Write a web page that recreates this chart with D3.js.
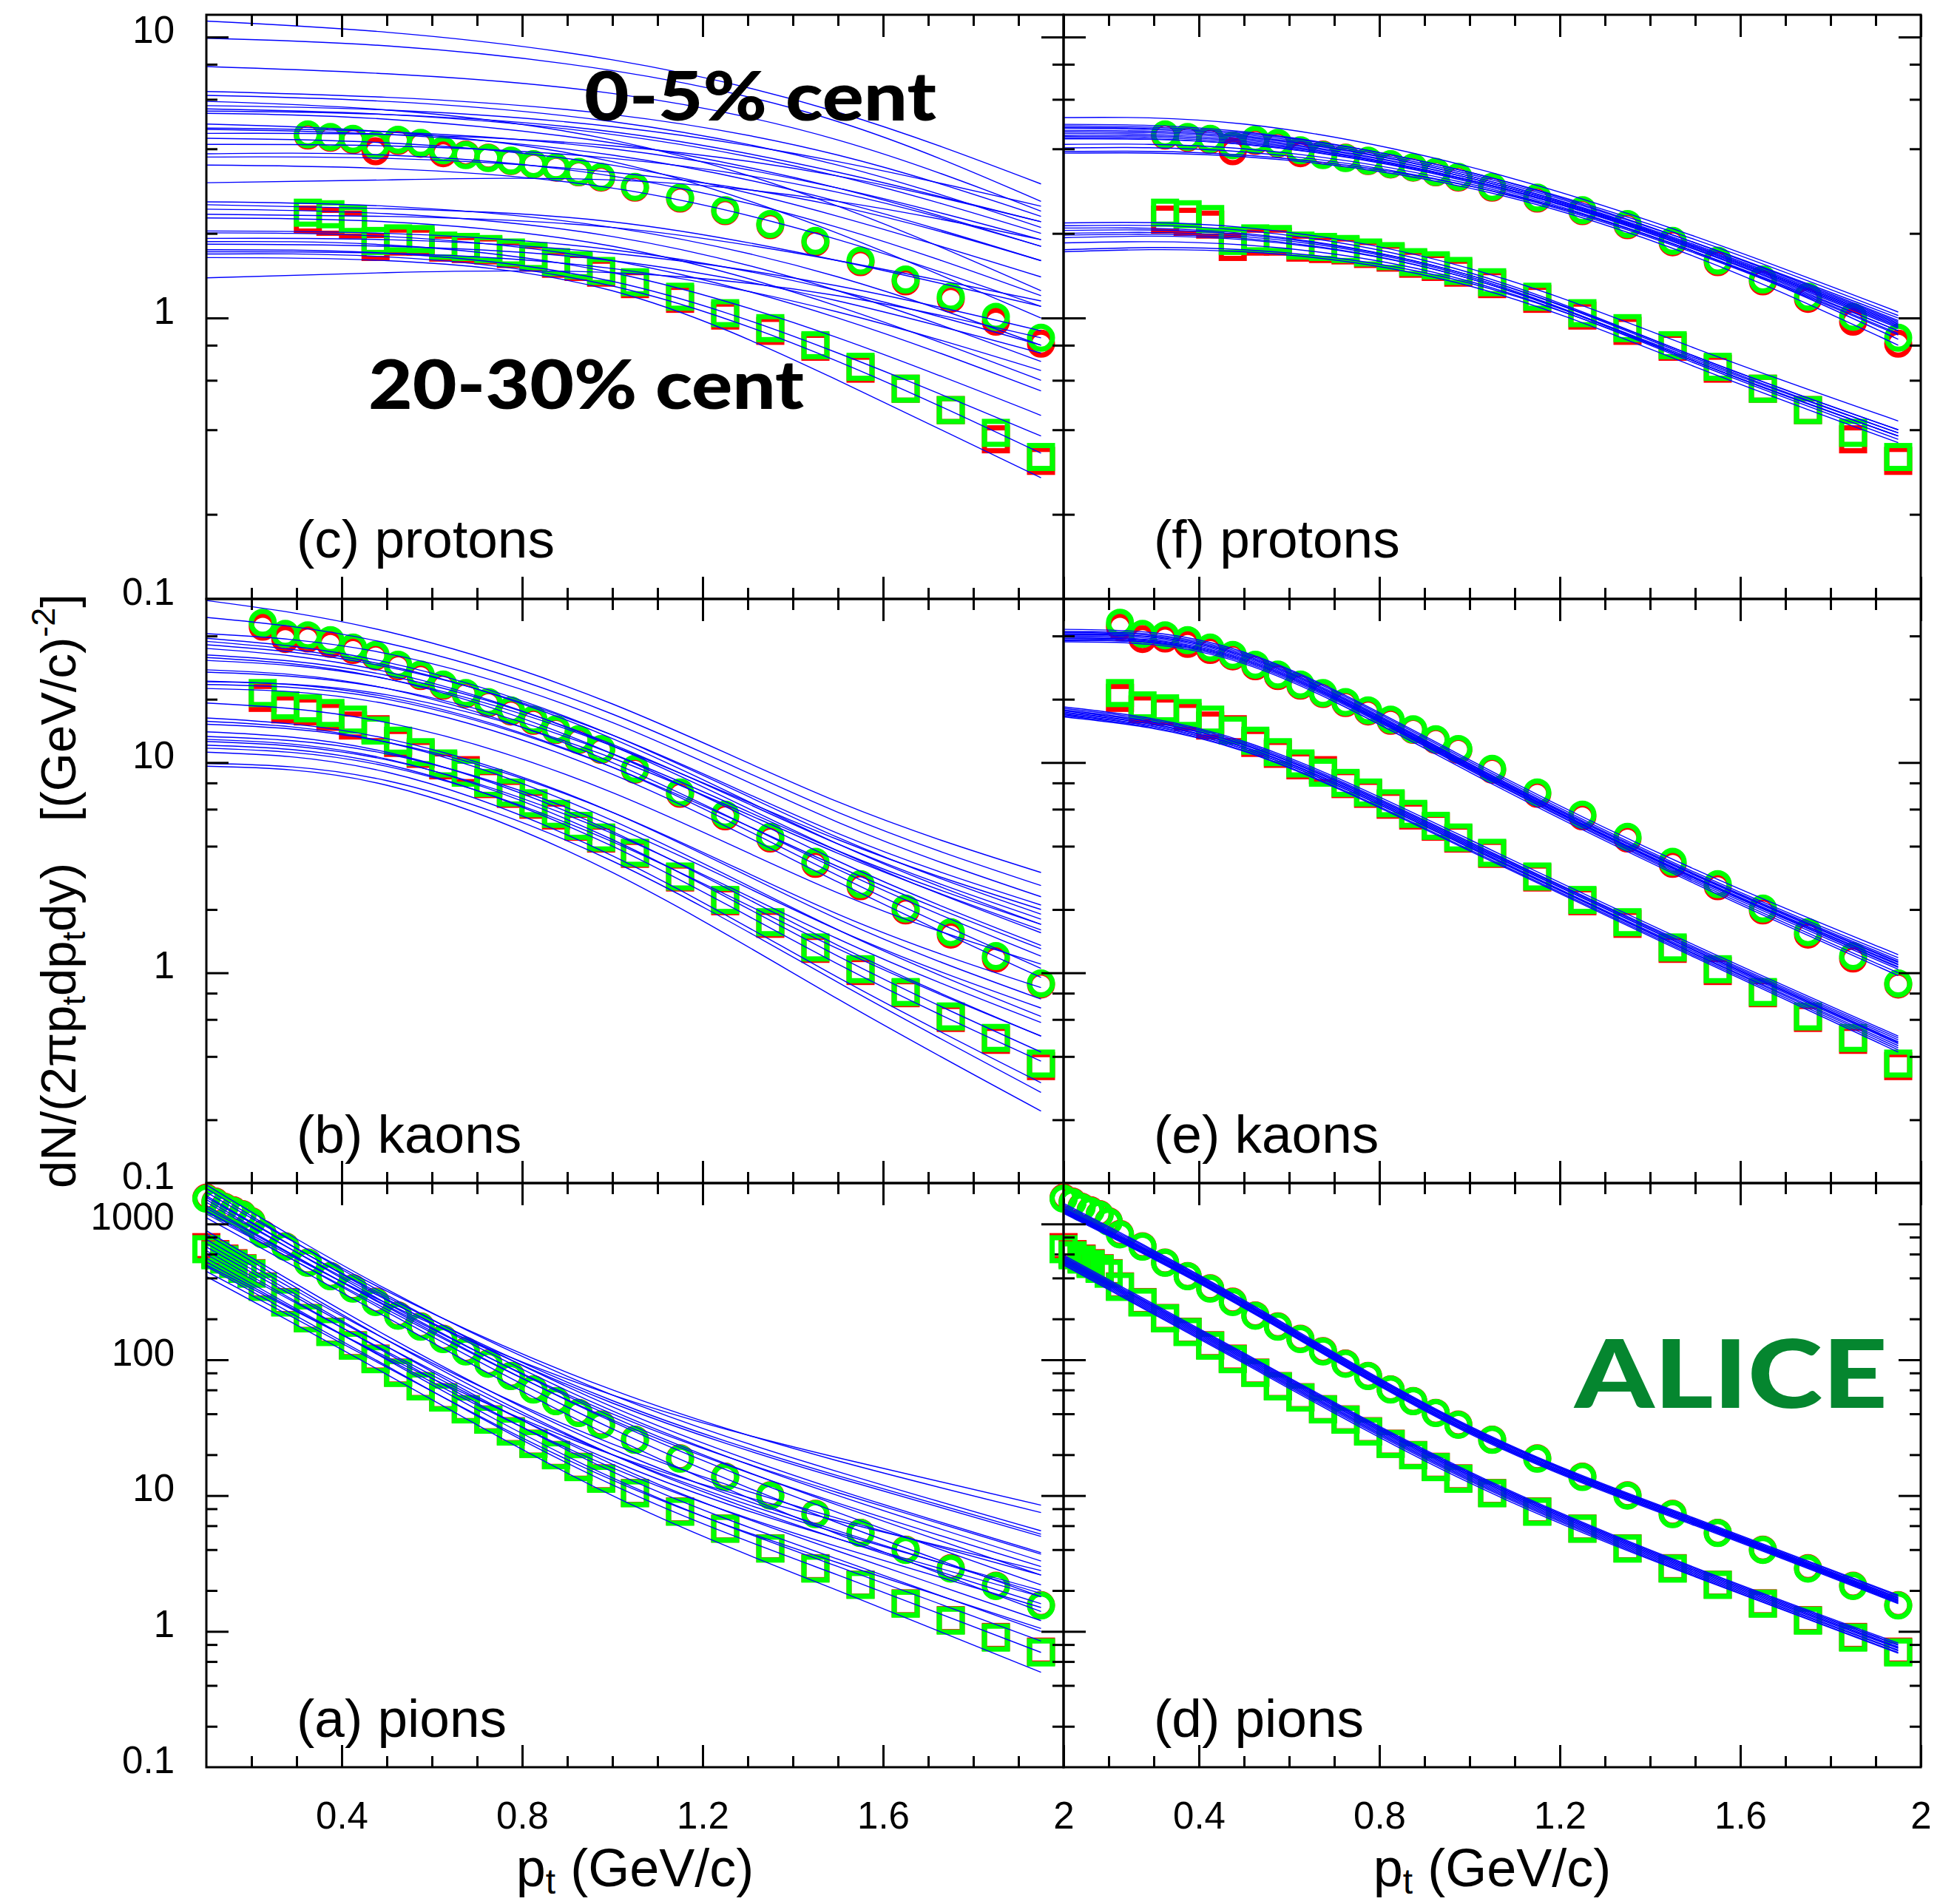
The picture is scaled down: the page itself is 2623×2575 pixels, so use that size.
<!DOCTYPE html>
<html>
<head>
<meta charset="utf-8">
<script src="https://cdn.jsdelivr.net/npm/d3@7"></script>
<style>
  html, body { margin: 0; padding: 0; background: #ffffff; }
  svg { display: block; }
</style>
</head>
<body>
<svg id="chart" width="2623" height="2575"></svg>
<script>
// ---------------------------------------------------------------
// Identified-hadron pT spectra, 0-5% and 20-30% centrality,
// compared with ensembles of model curves (wide prior, left column;
// calibrated posterior, right column).
// ---------------------------------------------------------------

// ---- measured spectra ------------------------------------------
const ptProton = [0.325,0.375,0.425,0.475,0.525,0.575,0.625,0.675,0.725,0.775,0.825,0.875,0.925,0.975,
                  1.05,1.15,1.25,1.35,1.45,1.55,1.65,1.75,1.85,1.95];
const protonCentralA = [4.50,4.41,4.34,4.12,4.31,4.20,3.95,3.80,3.71,3.63,3.53,3.44,3.31,3.18,
                        2.93,2.68,2.42,2.16,1.88,1.60,1.37,1.19,1.01,0.85];
const protonCentralB = [4.46,4.38,4.30,3.92,4.27,4.17,3.86,3.82,3.72,3.62,3.52,3.43,3.30,3.16,
                        2.91,2.66,2.40,2.14,1.86,1.58,1.35,1.17,0.97,0.81];
const protonPeriphA  = [2.37,2.34,2.25,1.88,1.92,1.91,1.81,1.79,1.76,1.71,1.66,1.58,1.54,1.47,
                        1.34,1.19,1.04,0.92,0.80,0.67,0.56,0.47,0.39,0.32];
const protonPeriphB  = [2.24,2.20,2.15,1.79,1.87,1.87,1.78,1.76,1.74,1.69,1.64,1.56,1.52,1.45,
                        1.32,1.17,1.02,0.90,0.79,0.66,0.56,0.47,0.37,0.31];

const ptKaon = [0.225,0.275,0.325,0.375,0.425,0.475,0.525,0.575,0.625,0.675,0.725,0.775,0.825,0.875,0.925,0.975,
                1.05,1.15,1.25,1.35,1.45,1.55,1.65,1.75,1.85,1.95];
const kaonCentralA = [46.2,40.9,40.3,38.2,35.2,32.5,29.2,26.2,23.5,21.4,19.4,17.7,16.0,14.4,12.9,11.6,
                      9.33,7.21,5.65,4.43,3.37,2.64,2.02,1.56,1.20,0.89];
const kaonCentralB = [44.3,38.7,38.9,36.7,34.3,32.0,28.7,25.8,23.2,21.2,19.2,17.5,15.8,14.3,12.8,11.5,
                      9.25,7.10,5.55,4.35,3.30,2.58,1.98,1.52,1.17,0.88];
const kaonPeriphA  = [21.4,18.7,18.1,17.2,16.0,14.2,12.7,11.2,9.9,8.95,8.0,7.2,6.4,5.7,5.0,4.4,
                      3.72,2.87,2.22,1.74,1.32,1.04,0.81,0.62,0.49,0.37];
const kaonPeriphB  = [20.3,17.9,17.5,16.5,15.0,14.4,12.4,11.0,9.7,9.2,7.9,7.1,6.3,5.6,4.95,4.35,
                      3.68,2.84,2.19,1.71,1.30,1.02,0.80,0.61,0.48,0.36];

const ptPion = [0.10,0.12,0.14,0.16,0.18,0.20,0.225,0.275,0.325,0.375,0.425,0.475,0.525,0.575,0.625,0.675,
                0.725,0.775,0.825,0.875,0.925,0.975,1.05,1.15,1.25,1.35,1.45,1.55,1.65,1.75,1.85,1.95];
const pionCentralA = [1535,1442,1327,1246,1171,1040,838,680,518,412,334,266,211,175,142,115,
                      93.4,75.8,60.3,49.5,40.5,33.2,25.7,18.7,13.7,10.0,7.3,5.3,3.98,2.9,2.16,1.55];
const pionCentralB = [1560,1460,1340,1260,1180,1050,845,685,520,414,336,268,212,176,143,116,
                      94.0,76.2,60.6,49.7,40.7,33.4,25.8,18.8,13.8,10.05,7.35,5.32,4.0,2.92,2.17,1.56];
const pionPeriphA  = [652,588,547,507,467,430,344,264,202,160,127,101,80,63.7,52.7,43.1,
                      36.2,29.6,24.0,19.8,16.2,13.3,10.4,7.6,5.7,4.07,2.9,2.2,1.6,1.2,0.9,0.7];
const pionPeriphB  = [675,600,556,514,472,434,347,266,203,161,128,102,80.5,64.0,53.0,43.3,
                      36.4,29.8,24.1,19.9,16.3,13.4,10.45,7.65,5.72,4.09,2.92,2.21,1.61,1.21,0.91,0.71];

// ---- model curves: values at the nodes below -------------------
const curveNodes = [0.1, 0.5, 1.0, 1.5, 1.95];

const protonWideCentral = [
  [11.4,10.4,8.3,5.4,3.0],[9.9,9.3,7.6,5.0,2.6],[7.85,7.4,6.3,4.3,2.4],[6.4,6.1,5.3,3.8,2.3],
  [6.2,5.9,5.0,3.5,2.1],[5.7,5.5,4.8,3.6,2.5],[5.55,5.3,4.5,3.2,2.0],[5.45,5.3,4.6,3.3,2.2],
  [5.35,5.1,4.2,2.9,1.8],[4.74,4.6,4.0,2.9,1.9],[4.69,4.5,3.8,2.6,1.6],[4.54,4.5,4.1,3.2,2.2],
  [4.36,4.2,3.5,2.3,1.4],[4.15,4.1,3.7,2.8,1.8],[3.84,3.8,3.2,2.1,1.2],[3.74,3.7,3.3,2.5,1.6],
  [3.5,3.4,2.9,1.9,1.1],[3.03,3.1,3.1,2.6,1.9],[4.9,4.6,3.6,2.0,1.0],[5.9,5.5,4.3,2.5,1.25]
];
const protonWidePeriph = [
  [2.59,2.5,2.1,1.4,0.8],[2.53,2.45,2.2,1.6,1.1],[2.44,2.35,1.95,1.25,0.7],[2.34,2.3,2.1,1.6,1.15],
  [2.27,2.2,1.8,1.1,0.6],[2.04,2.0,1.75,1.25,0.8],[2.01,1.95,1.6,1.0,0.55],[1.92,1.9,1.7,1.3,0.9],
  [1.87,1.82,1.45,0.85,0.45],[1.83,1.8,1.6,1.15,0.75],[1.75,1.7,1.35,0.75,0.38],[1.72,1.7,1.5,1.05,0.65],
  [1.69,1.65,1.3,0.7,0.33],[1.64,1.6,1.25,0.6,0.27],[1.39,1.45,1.45,1.2,0.85]
];
const protonTunedCentral = [
  [5.17,4.9,3.45,1.95,1.05],[4.89,4.6,3.3,1.9,1.02],[4.83,4.55,3.3,1.85,0.98],[4.77,4.5,3.25,1.85,1.0],
  [4.74,4.45,3.2,1.8,0.95],[4.66,4.4,3.2,1.82,0.97],[4.6,4.35,3.15,1.78,0.93],[4.54,4.3,3.15,1.8,0.96],
  [4.47,4.25,3.1,1.75,0.9],[4.42,4.2,3.1,1.78,0.94],[4.36,4.15,3.05,1.72,0.88],[4.34,4.15,3.08,1.76,0.92],
  [4.15,4.0,3.0,1.72,0.9],[4.03,3.9,2.95,1.7,0.87],[3.91,3.8,2.95,1.72,0.84],[3.86,3.75,2.9,1.65,0.8]
];
const protonTunedPeriph = [
  [2.18,2.1,1.5,0.78,0.43],[2.13,2.05,1.45,0.73,0.4],[2.09,2.0,1.42,0.72,0.39],[2.05,1.98,1.42,0.73,0.4],
  [2.0,1.95,1.4,0.7,0.38],[1.97,1.92,1.38,0.7,0.38],[1.93,1.9,1.38,0.71,0.39],[1.85,1.82,1.35,0.69,0.37],
  [1.75,1.75,1.33,0.7,0.38],[1.72,1.72,1.3,0.67,0.36]
];

const kaonWideCentral = [
  [59,42,19,6.5,3.0],[49,37,17,5.8,2.6],[41,33,15.5,5.2,2.3],[39,30,13.5,4.4,1.9],
  [37.7,29,13,4.1,1.7],[36.3,28.5,13.5,4.6,2.1],[34.9,27,12,3.8,1.55],[32.5,26,12.2,4.1,1.8],
  [31.6,25,11,3.4,1.35],[30.6,25,12,4.3,2.0],[27.6,22.5,10,3.1,1.2],[26.9,22.5,11,3.8,1.7],
  [24.4,20.5,9.5,2.9,1.05],[24.2,21,10.5,3.7,1.6],[22.5,19,8.8,2.7,0.95],[23.5,20,9.5,3.2,1.3]
];
const kaonWidePeriph = [
  [19.2,15.5,7.2,2.4,1.1],[16.3,13,5.8,1.8,0.75],[15.7,12.5,5.3,1.6,0.62],[15.2,12.5,5.8,1.9,0.85],
  [14.0,11.2,4.7,1.35,0.5],[13.3,11,5.0,1.6,0.68],[12.9,10.4,4.3,1.2,0.42],[12.6,10.3,4.6,1.45,0.58],
  [12.1,9.8,4.0,1.1,0.38],[11.7,9.6,4.2,1.3,0.5],[11.2,9.0,3.6,0.95,0.3],[9.9,8.2,3.4,0.9,0.27],
  [9.6,7.8,3.0,0.75,0.22]
];
const kaonTunedCentral = [
  [43,33.5,10.3,3.1,1.22],[42,33,10.1,3.0,1.18],[41.5,32.5,9.9,2.95,1.15],[41,32,9.8,2.9,1.12],
  [40.5,32,9.7,2.92,1.13],[40,31.5,9.6,2.85,1.1],[39.5,31,9.5,2.8,1.07],[39,31,9.5,2.82,1.09],
  [38.8,30.5,9.3,2.75,1.04],[38.3,30,9.2,2.7,1.0],[38,30.5,9.4,2.8,1.06],[37.5,29.5,9.0,2.65,0.97]
];
const kaonTunedPeriph = [
  [18.4,12.6,4.3,1.35,0.5],[18.1,12.4,4.2,1.32,0.49],[17.8,12.2,4.15,1.3,0.48],[17.6,12.1,4.1,1.28,0.47],
  [17.4,11.9,4.05,1.27,0.465],[17.2,11.8,4.0,1.25,0.46],[17.0,11.6,3.95,1.23,0.45],[16.9,11.6,3.93,1.22,0.44],
  [16.7,11.4,3.85,1.2,0.43],[16.5,11.3,3.8,1.18,0.42]
];

const pionWideCentral = [
  [1941,330,55,15,5.5],[1823,300,45,11,3.8],[1713,320,60,18,7.5],[1614,280,42,10,3.3],
  [1567,290,50,14,5.2],[1510,260,38,8.5,2.6],[1443,275,48,13.5,5.0],[1357,245,35,7.5,2.2],
  [1307,250,40,10.5,3.7],[1230,225,31,6.3,1.8],[1185,235,36,8.8,3.0],[1110,205,27,5.2,1.4],
  [1250,260,55,19,8.5]
];
const pionWidePeriph = [
  [892,150,22,5.5,1.9],[840,140,20,4.8,1.6],[770,140,24,6.8,2.6],[720,125,17,3.9,1.2],
  [677,125,20,5.3,2.0],[635,112,15,3.4,1.0],[596,115,18,4.8,1.8],[560,100,13.5,3.0,0.85],
  [525,102,16,4.2,1.5],[487,90,12,2.6,0.7],[448,88,13,3.2,1.05],[410,78,10,2.0,0.5],
  [500,105,20,6.5,2.8]
];
const pionTunedCentral = [
  [1420,275,32.5,6.8,1.85],[1390,270,32,6.7,1.82],[1360,265,31.5,6.6,1.78],[1330,262,31,6.5,1.75],
  [1300,258,30.5,6.4,1.72],[1280,255,30.2,6.35,1.7],[1260,252,30,6.3,1.68],[1240,248,29.5,6.2,1.66],
  [1225,246,29.2,6.15,1.64],[1210,243,29,6.1,1.62],[1195,240,28.5,6.0,1.6],[1300,262,31.5,6.6,1.76]
];
const pionTunedPeriph = [
  [590,112,15,2.95,0.82],[575,110,14.7,2.9,0.8],[565,108,14.5,2.85,0.79],[555,106,14.2,2.8,0.77],
  [545,104,14,2.75,0.76],[535,102,13.7,2.7,0.75],[525,100,13.4,2.65,0.73],[515,98,13.1,2.6,0.72],
  [505,96,12.8,2.55,0.7],[497,94,12.4,2.52,0.69]
];

// ---- axis ticks -------------------------------------------------
const xMajorTicks = [0.4, 0.8, 1.2, 1.6, 2];
const xMinorTicks = [0.2,0.3,0.5,0.6,0.7,0.9,1.0,1.1,1.3,1.4,1.5,1.7,1.8,1.9];
const yLabelTicks = [[0.1,1,10],[0.1,1,10],[0.1,1,10,100,1000]];
const yDomains = [[0.1,12],[0.1,60],[0.1,2000]];
const panelLabels = [["(c) protons","(f) protons"],["(b) kaons","(e) kaons"],["(a) pions","(d) pions"]];

// ---- layout -----------------------------------------------------
const colX = [[279,1438],[1438,2597]];
const rowY = [[20,810],[810,1600],[1600,2390]];
const tagLift = [56, 41, 41];

const COLORS = { red: "#ff0000", green: "#00ff00", model: "#0000ff", alice: "#05862f" };
const TICK_FONT = "'Liberation Sans', Arial, Helvetica, sans-serif";

const species = [
  { pt: ptProton, cA: protonCentralA, cB: protonCentralB, pA: protonPeriphA, pB: protonPeriphB,
    curves: [[protonWideCentral, protonWidePeriph],[protonTunedCentral, protonTunedPeriph]] },
  { pt: ptKaon, cA: kaonCentralA, cB: kaonCentralB, pA: kaonPeriphA, pB: kaonPeriphB,
    curves: [[kaonWideCentral, kaonWidePeriph],[kaonTunedCentral, kaonTunedPeriph]] },
  { pt: ptPion, cA: pionCentralA, cB: pionCentralB, pA: pionPeriphA, pB: pionPeriphB,
    curves: [[pionWideCentral, pionWidePeriph],[pionTunedCentral, pionTunedPeriph]] }
];

const svg = d3.select("#chart");

function decadeMinors(lo, hi) {
  const out = [];
  for (let e = Math.floor(Math.log10(lo)); e <= Math.ceil(Math.log10(hi)); e++) {
    [2,4,6,8].forEach(m => { const v = m * Math.pow(10, e); if (v > lo && v < hi) out.push(v); });
  }
  return out;
}
function decadeMajors(lo, hi) {
  const out = [];
  for (let e = Math.floor(Math.log10(lo)); e <= Math.ceil(Math.log10(hi)); e++) {
    const v = Math.pow(10, e); if (v > lo * 1.0001 && v < hi) out.push(v);
  }
  return out;
}
function styleTicks(sel) {
  sel.select(".domain").remove();
  sel.selectAll(".tick line").attr("stroke", "#000").attr("stroke-width", 3);
}

const MAJ = 30, MIN = 15;

rowY.forEach((ry, r) => {
  colX.forEach((cx, c) => {
    const x = d3.scaleLinear().domain([0.1, 2.0]).range(cx);
    const y = d3.scaleLog().domain(yDomains[r]).range([ry[1], ry[0]]);
    const g = svg.append("g").attr("class", `panel r${r} c${c}`);
    const sp = species[r];

    const clipId = `clip-${r}-${c}`;
    g.append("clipPath").attr("id", clipId).append("rect")
      .attr("x", cx[0]).attr("y", ry[0]).attr("width", cx[1] - cx[0]).attr("height", ry[1] - ry[0]);

    const plot = g.append("g");

    // markers: red underneath, green on top
    const drawCircles = (vals, color) => {
      plot.append("g").selectAll("circle").data(sp.pt.map((p, i) => [p, vals[i]])).join("circle")
        .attr("cx", d => x(d[0])).attr("cy", d => y(d[1])).attr("r", 15.5)
        .attr("fill", "none").attr("stroke", color).attr("stroke-width", 7);
    };
    const drawSquares = (vals, color) => {
      const s = 31;
      plot.append("g").selectAll("rect").data(sp.pt.map((p, i) => [p, vals[i]])).join("rect")
        .attr("x", d => x(d[0]) - s / 2).attr("y", d => y(d[1]) - s / 2)
        .attr("width", s).attr("height", s)
        .attr("fill", "none").attr("stroke", color).attr("stroke-width", 7);
    };
    drawSquares(sp.pB, COLORS.red);
    drawCircles(sp.cB, COLORS.red);
    drawSquares(sp.pA, COLORS.green);
    drawCircles(sp.cA, COLORS.green);

    // model curves
    const line = d3.line().x(d => x(d[0])).y(d => y(d[1])).curve(d3.curveNatural);
    const curveGroup = plot.append("g").attr("clip-path", `url(#${clipId})`);
    sp.curves[c].forEach(set => {
      curveGroup.append("g").selectAll("path").data(set).join("path")
        .attr("d", vals => line(curveNodes.map((p, i) => [p, vals[i]])))
        .attr("fill", "none").attr("stroke", COLORS.model).attr("stroke-width", 1.4);
    });

    // inward ticks on all four sides
    const yMin = decadeMinors(...yDomains[r]);
    const yMaj = decadeMajors(...yDomains[r]);
    const axes = g.append("g");
    axes.append("g").attr("transform", `translate(0,${ry[1]})`)
      .call(d3.axisBottom(x).tickValues(xMinorTicks).tickSize(-MIN).tickFormat("")).call(styleTicks);
    axes.append("g").attr("transform", `translate(0,${ry[1]})`)
      .call(d3.axisBottom(x).tickValues(xMajorTicks).tickSize(-MAJ).tickFormat("")).call(styleTicks);
    axes.append("g").attr("transform", `translate(0,${ry[0]})`)
      .call(d3.axisTop(x).tickValues(xMinorTicks).tickSize(-MIN).tickFormat("")).call(styleTicks);
    axes.append("g").attr("transform", `translate(0,${ry[0]})`)
      .call(d3.axisTop(x).tickValues(xMajorTicks).tickSize(-MAJ).tickFormat("")).call(styleTicks);
    axes.append("g").attr("transform", `translate(${cx[0]},0)`)
      .call(d3.axisLeft(y).tickValues(yMin).tickSize(-MIN).tickFormat("")).call(styleTicks);
    axes.append("g").attr("transform", `translate(${cx[0]},0)`)
      .call(d3.axisLeft(y).tickValues(yMaj).tickSize(-MAJ).tickFormat("")).call(styleTicks);
    axes.append("g").attr("transform", `translate(${cx[1]},0)`)
      .call(d3.axisRight(y).tickValues(yMin).tickSize(-MIN).tickFormat("")).call(styleTicks);
    axes.append("g").attr("transform", `translate(${cx[1]},0)`)
      .call(d3.axisRight(y).tickValues(yMaj).tickSize(-MAJ).tickFormat("")).call(styleTicks);

    g.append("rect").attr("x", cx[0]).attr("y", ry[0])
      .attr("width", cx[1] - cx[0]).attr("height", ry[1] - ry[0])
      .attr("fill", "none").attr("stroke", "#000").attr("stroke-width", 3);

    // y tick labels (left column)
    if (c === 0) {
      const ya = g.append("g").attr("transform", `translate(${cx[0]},-9)`)
        .call(d3.axisLeft(y).tickValues(yLabelTicks[r]).tickSize(0).tickPadding(43)
          .tickFormat(d => d < 1 ? d3.format(".1f")(d) : d3.format("d")(d)));
      ya.select(".domain").remove();
      ya.selectAll("text").attr("font-family", TICK_FONT).attr("font-size", 51).attr("fill", "#000");
    }
    // x tick labels and title (bottom row)
    if (r === 2) {
      const xa = g.append("g").attr("transform", `translate(0,${ry[1]})`)
        .call(d3.axisBottom(x).tickValues(xMajorTicks).tickSize(0).tickPadding(47)
          .tickFormat(d => d === 2 ? "2" : d3.format(".1f")(d)));
      xa.select(".domain").remove();
      xa.selectAll("text").attr("font-family", TICK_FONT).attr("font-size", 51).attr("fill", "#000");

      const t = g.append("text").attr("x", (cx[0] + cx[1]) / 2).attr("y", 2551)
        .attr("text-anchor", "middle").attr("font-family", TICK_FONT).attr("font-size", 72);
      t.append("tspan").text("p");
      t.append("tspan").attr("font-size", 48).attr("dy", 10).text("t");
      t.append("tspan").attr("dy", -10).text(" (GeV/c)");
    }

    // panel tag
    g.append("text").attr("x", cx[0] + 122).attr("y", ry[1] - tagLift[r])
      .attr("font-family", TICK_FONT).attr("font-size", 73).attr("fill", "#000")
      .text(panelLabels[r][c]);
  });
});

// y-axis title
const yt = svg.append("text")
  .attr("transform", "translate(102,1205) rotate(-90)")
  .attr("text-anchor", "middle").attr("font-family", TICK_FONT).attr("font-size", 67).attr("fill", "#000");
yt.append("tspan").text("dN/(2πp");
yt.append("tspan").attr("font-size", 45).attr("dy", 13).text("t");
yt.append("tspan").attr("dy", -13).text("dp");
yt.append("tspan").attr("font-size", 45).attr("dy", 13).text("t");
yt.append("tspan").attr("dy", -13).text("dy)\u00a0\u00a0\u00a0[(GeV/c)");
yt.append("tspan").attr("font-size", 45).attr("dy", -28).text("-2");
yt.append("tspan").attr("dy", 28).text("]");

// centrality tags and experiment name
const HEAVY = "Lato, 'Open Sans', sans-serif";
svg.append("text").attr("x", 790).attr("y", 163).attr("font-family", HEAVY).attr("font-weight", 900)
  .attr("font-size", 92).attr("textLength", 476).attr("lengthAdjust", "spacingAndGlyphs").text("0-5% cent");
svg.append("text").attr("x", 498).attr("y", 553).attr("font-family", HEAVY).attr("font-weight", 900)
  .attr("font-size", 92).attr("textLength", 589).attr("lengthAdjust", "spacingAndGlyphs").text("20-30% cent");
svg.append("text").attr("x", 2129).attr("y", 1904).attr("font-family", HEAVY).attr("font-weight", 900)
  .attr("font-size", 128).attr("fill", COLORS.alice)
  .attr("textLength", 423).attr("lengthAdjust", "spacingAndGlyphs").text("ALICE");
</script>
</body>
</html>
